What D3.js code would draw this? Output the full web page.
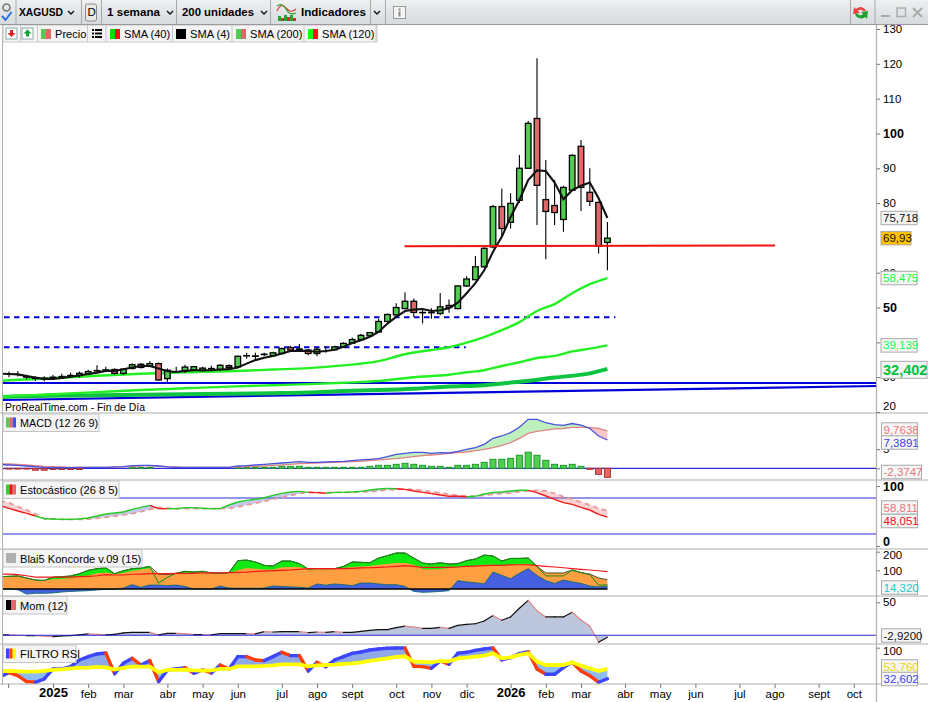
<!DOCTYPE html>
<html lang="es">
<head>
<meta charset="utf-8">
<title>XAGUSD</title>
<script src="https://cdnjs.cloudflare.com/ajax/libs/d3/7.8.5/d3.min.js"></script>
<style>
html,body{margin:0;padding:0;background:#fff;}
svg{display:block;font-family:"Liberation Sans",Arial,sans-serif;}
text{fill:#000;}
</style>
</head>
<body>
<svg id="c" width="928" height="702" viewBox="0 0 928 702"></svg>
<script>
// ---------- DATA ----------
const open  = [30.9,30.8,30.8,30.2,29.6,29.5,29.7,30,30.3,30.5,31,31.8,32,32.2,31.1,32.5,33.7,33.2,33.9,29.6,32.2,31.8,32.1,31.9,32.4,32.2,33.3,33,36.1,36,36.5,36.2,36.8,38.5,38,37.8,36.8,38,37.9,38.7,39.8,40.8,41.9,43,46,47.9,49.7,51.8,48.6,48.6,48.3,50.6,49.7,56.2,58,61.7,67.4,79,74.5,80.8,90,104.3,81,79.3,75.3,83.7,96.3,83.1,80.2,68.7];
const high  = [31.5,31.6,31.7,30.7,30.2,30.3,30.6,31,31.3,31.6,32.1,33.4,33,32.6,32.6,33.9,34.1,34.6,34.2,32.5,33,33.6,33.3,33,33.3,33.8,33.7,36.2,37,37,37,37.3,38.5,39,39.5,38.1,38.6,38.9,39,40,41.4,42.5,43,46.8,48.3,51.2,54.4,52.6,49.7,49.8,54.2,52.3,56.3,59,64.8,67.3,79.5,84.2,82.8,93.8,103.6,121.6,92.4,86.6,85,94,98.1,90,80.4,74.6];
const low   = [30.3,30,30.2,29.3,28.9,28.8,29.3,29.7,30,29.9,30.7,31.2,31.5,30.8,30.7,32.2,32.5,32.9,29,28.7,31.2,31.2,31.8,31.6,31.7,31.8,32.5,32.6,35.3,35.2,36,36,36.5,37.5,37.5,36.3,36,37,37.7,38.4,39.5,40.7,41.7,42.8,45.9,47.3,49.6,47.3,45.4,46.8,47.8,48.5,49.5,55.9,58,61.5,67,70.3,72.7,80,90,73.7,63.9,73.7,71.8,83.7,77.7,79.2,65.5,60.7];
const close = [30.9,30.8,30.8,30,29.8,29.7,30,30.2,30.5,31.1,31.6,31.9,32.1,31.1,32.3,33.6,32.8,33.9,29.2,32,32.2,32.9,33,32.6,32.5,33.4,32.8,36,36.2,36.1,36.6,37,38.2,37.8,38.1,36.8,38,38,38.7,39.7,40.8,42,42.8,46,48,50,51.8,48.6,48.5,48.5,50.2,50,56.2,58.2,61.7,67,79,72.7,79.9,90,102.9,85.1,77.6,77.3,84.5,93.7,84.5,80.5,67.6,69.93];
const sma4  = [31,30.9,30.8,30.3,29.9,29.5,29.5,29.8,30.1,30.5,30.9,31.3,31.8,31.8,32.3,32.8,33.2,33.2,32.5,31.7,31.5,31.8,32,32,32,32.2,32.3,32.8,33.9,34.9,35.6,36.1,36.8,37.5,37.6,37.5,37.3,37.5,37.9,38.7,39.8,40.6,41.6,43,45.4,47.3,49,49.4,49.6,49,49.2,49.8,51.4,54.1,57,60.7,66,70.3,76,80.9,86.6,89.4,89.2,85.9,81.1,83.7,85,85.9,81.4,75.718];

const sma40Weeks  = [0,1,6,11,16,21,26,31,35,39,43,46,49,51,53,55,57,59,61,63,65,67,69];
const sma40Values = [29,29.1,29.7,30.4,31,31.4,31.7,32.2,32.6,33.4,34.6,36.6,37.8,38.6,39.9,41.5,43.5,45.8,49,51,54.1,56.7,58.475];
const sma120Weeks  = [0,1,6,11,16,21,26,31,35,39,43,47,51,53,55,57,59,61,63,65,67,69];
const sma120Values = [24.3,24.5,25.1,25.7,26.3,26.8,27.3,27.7,28,28.4,28.9,30,30.7,31.4,32,33.2,34.3,35.5,36.1,37.4,38.2,39.139];
const sma200Weeks  = [0,1,11,21,31,35,39,43,47,51,55,59,63,67,69];
const sma200Values = [24.3,24.4,24.8,25.1,25.4,25.6,26,26.3,26.7,27.3,27.7,28.7,29.9,31.1,32.402];

const macdLine = [.95,.87,.78,.61,.43,.26,.17,.17,.17,.26,.26,.26,.26,.35,.43,.7,.78,.78,.61,.35,.26,.26,.26,.26,.26,.26,.26,.61,.7,.87,1.04,1.22,1.39,1.57,1.74,1.57,1.57,1.65,1.74,1.83,2,2.18,2.35,2.52,3.05,3.65,3.92,4.18,4.18,3.92,4.09,4,4.44,4.96,5.4,6.26,7.83,8.44,9.31,10.7,12.8,12.8,11.9,11.4,11.2,11.7,11.3,10.4,8.44,7.3891];
const macdSignal = [1.2,1.13,1.04,.87,.7,.52,.43,.35,.26,.26,.26,.26,.26,.26,.35,.43,.61,.7,.61,.43,.35,.26,.26,.26,.26,.26,.26,.35,.43,.52,.61,.78,.87,1.04,1.22,1.3,1.39,1.48,1.57,1.65,1.74,1.83,2,2.18,2.35,2.52,2.78,3.05,3.31,3.48,3.65,3.92,4.09,4.26,4.61,4.96,5.39,6,6.7,7.83,9.14,9.66,10,10.3,10.4,10.7,10.7,10.7,10.4,9.7638];
const macdHist = [-.2,-.2,-.2,-.2,-.5,-.5,-.3,-.3,-.3,-.3,0,0,0,0,0,.25,.25,.25,0,0,0,0,0,0,0,0,0,.25,.25,.25,.25,.26,.52,.52,.52,.26,.26,.26,.26,.26,.26,.26,.52,.78,.78,1.04,1.3,1.04,.78,.52,.52,.26,.78,.78,1.04,1.57,2.35,2.35,2.6,3.4,4.2,3.4,2.1,1.04,.78,1.04,.52,-.26,-1.57,-2.3747];

const stochK = [67,62.8,58.3,54.4,50,45.5,45,44.4,44.4,45,46.7,50,53.3,55,56.7,61.1,64.4,67.8,62.2,62.2,62.2,63.9,63.9,62.8,62.2,62.2,68.3,73.3,76.1,77.8,80.5,84.4,87.8,90,91.1,89.4,88.9,87.8,89.4,89.4,90,91.1,93.3,95,96.1,95.5,94.4,91.7,89.4,87.2,85,82.8,82.8,82.2,82.8,86.7,89.4,90,91.7,92.8,92.8,88.9,83.3,77.8,72.2,69.4,64.4,60,52.8,48.051];
const stochD = [75.5,72.2,65.5,60,53.3,45.5,45,44.4,44.4,44.4,45,46.1,47.8,50,51.7,53.9,57.2,61.1,64.4,63.3,62.2,62.2,62.2,62.2,62.2,62.2,62.8,65,68.3,71.1,74.4,77.8,81.1,84.4,87.2,89.4,89.4,88.9,89.4,89.4,89.4,90,90.5,91.7,93.3,94.4,95,94.4,92.8,90.5,88.3,86.1,84.4,83.3,82.8,84.4,86.1,87.2,88.3,90.5,91.7,92.8,91.7,87.8,82.2,77.8,73.3,68.3,62.8,58.811];

const koncordeGreen  = [66,68,70,59,48,46,63,66,70,82,100,109,114,82,98,109,113,121,32,63,84,95,91,95,86,84,88,152,155,145,127,123,150,150,136,107,109,109,109,121,145,143,141,166,179,193,193,166,139,134,141,134,136,152,161,182,177,150,164,164,166,121,70,70,70,102,88,77,20,23];
const koncordeOrange = [66,68,70,59,48,46,52,54,59,68,73,84,89,80,86,98,104,111,80,77,84,82,86,88,86,84,86,100,113,109,104,105,116,118,118,105,109,107,107,113,118,121,123,130,136,139,139,130,107,104,107,113,116,121,125,130,130,127,130,134,136,120,86,86,86,96,88,80,59,50];
const koncordeBlue   = [0,0,-4,-27,-23,-23,-21,-16,-13,-11,-9,-5,-2,-2,5,23,9,21,21,18,21,13,0,0,0,16,5,4,4,4,5,16,13,11,9,5,27,20,27,23,18,32,32,27,23,23,14,-13,-18,-16,-13,-9,45,38,34,27,91,73,55,84,109,73,45,30,48,38,30,16,11,14.32];
const koncordeMedia  = [80,80,77,71,64,64,64,64,64,66,68,71,77,75,75,79,80,82,82,82,84,84,84,86,86,86,88,89,91,95,96,98,100,102,105,109,109,109,109,109,111,113,114,116,118,121,125,121,116,116,116,116,118,121,123,125,127,127,129,130,130,125,121,118,114,109,105,102,98,93];

const momentum = [.5,.5,0,-.5,-.5,-1.5,-2,-1,-.5,.5,2,1.5,.5,1.5,3.5,4.5,4.5,4.5,.5,3,3,2.5,1,1,.5,2.5,2.5,2.5,2.5,2,5.5,5,5.5,5.5,5.5,4,5,4.5,5.5,4.5,4.5,6,7.5,8.5,8.5,11.5,14,12.5,10.5,10.5,12,10.5,15,16.5,17.5,21.7,30,22.7,27.8,40.9,53,36.9,27.8,27.8,27.8,34.8,23.2,14.1,-10.6,-2.92];

const rsi = [37,45.8,39.2,26.2,24.8,32,53.8,53.8,58.8,73.3,80.6,86.4,88.5,43.6,66,76.9,62.4,71.9,26.2,51.6,53.8,56.6,44.3,51.6,45,62.4,53.8,80.6,80.6,73.3,71.9,80.6,90,82.7,82.7,49.4,68.2,58.8,73.3,80.6,87.8,90.7,95,97.2,98.7,99.4,99.4,59.5,58.8,55.2,71.1,63.9,87.8,90,94.3,97.2,99.4,73.3,78.4,87.1,91.4,53.8,42.2,42.2,56.6,68.2,49.4,39.2,24.8,32.602];
const rsiSignal = [49.4,49.4,48.7,48,48,49.4,51.6,53,55.2,56,56.6,58.1,57.4,52.3,56,58.8,58.8,58.8,46.5,51.6,51.6,52.3,50.9,50.1,50.9,53.8,53.8,59.5,59.5,59.5,60.3,61.7,63.9,63.9,63.9,59.5,61.7,62.4,63.2,64.6,66.1,68.2,71.1,74,76.9,79.8,81.3,69.7,69,68.2,71.1,70.4,76.9,78.4,80.6,82.7,87.8,76.9,79.1,84.2,87.8,69.7,62.4,62.4,62.4,68.2,61,55.2,49.4,53.76];

const supportLevels = [47.2, 38.6];
const resistanceLevel = 67.6;
const trendLevels = [[28.33, 28.33],[23.45, 27.47]];

const priceTicks = [130,120,110,100,90,80,60,50,40,30,20];
const monthWeeks  = [0.9,6,10,14,19,23,27,32,36,40,45,49,53,58,62,66,71,75,79,84,88,93,97];
const monthLabels = ["","2025","feb","mar","abr","may","jun","jul","ago","sept","oct","nov","dic","2026","feb","mar","abr","may","jun","jul","ago","sept","oct"];
const legendNames = ["Precio","SMA (40)","SMA (4)","SMA (200)","SMA (120)"];
const panelNames = ["MACD (12 26 9)","Estocástico (26 8 5)","Blai5 Koncorde v.09 (15)","Mom (12)","FILTRO RSI"];
const toolbarNames = ["XAGUSD","D","1 semana","200 unidades","Indicadores"];

// ---------- SCALES ----------
const svg = d3.select("#c");
const W = 928, axisX = 876.5, left = 3;
const weeks = open.map((_, i) => i);
const x = d3.scaleLinear().domain([0, 97]).range([0.2, 853.8]);
const yPrice = d3.scaleLinear().domain([20, 130]).range([412, 29]);
const yMacd  = d3.scaleLinear().domain([-3, 12.8]).range([479.8, 419.3]);
const yStoch = d3.scaleLinear().domain([0, 100]).range([546, 486]);
const yKon   = d3.scaleLinear().domain([0, 200]).range([589, 551.7]);
const yMom   = d3.scaleLinear().domain([-2.92, 50]).range([637.2, 602.3]);
const yRsi   = d3.scaleLinear().domain([0, 100]).range([693.7, 647.7]);

const defs = svg.append("defs");
const grad = defs.append("linearGradient").attr("id","tb").attr("x2",0).attr("y2",1);
grad.append("stop").attr("offset",0).attr("stop-color","#eef0f1");
grad.append("stop").attr("offset",1).attr("stop-color","#d5dadd");
function clip(id, y0, y1){
  defs.append("clipPath").attr("id",id).append("rect").attr("x",left).attr("y",y0).attr("width",axisX-left).attr("height",y1-y0);
}
clip("cMain",25,411); clip("cMacd",413,480); clip("cStoch",480,549); clip("cKon",549,596); clip("cMom",596,644); clip("cRsi",644,684);

svg.append("rect").attr("width",W).attr("height",702).attr("fill","#fff");

const col = {up:"#52cc52", dn:"#e06868", blue:"#0000e0", panel:"#b0b0b0"};

// ---------- MAIN PANEL ----------
const gMain = svg.append("g").attr("clip-path","url(#cMain)");
const lineP = d3.line().x(d=>x(d[0])).y(d=>yPrice(d[1])).curve(d3.curveMonotoneX);

// trend / support lines
const trendX = [0.32, 99.63];
gMain.selectAll(".trend").data(trendLevels).join("line").attr("class","trend")
  .attr("x1",x(trendX[0])).attr("x2",x(trendX[1]))
  .attr("y1",d=>yPrice(d[0])).attr("y2",d=>yPrice(d[1]))
  .attr("stroke","#0000d8").attr("stroke-width",2.2);
const dashEnd = [69.9, 52.9];
gMain.selectAll(".sup").data(supportLevels).join("line").attr("class","sup")
  .attr("x1",left+1).attr("x2",(d,i)=>x(dashEnd[i]))
  .attr("y1",d=>yPrice(d)).attr("y2",d=>yPrice(d))
  .attr("stroke","#0000e0").attr("stroke-width",2).attr("stroke-dasharray","5.5 4.5");

// SMAs
const smas = [
  {w:sma200Weeks,v:sma200Values,c:"#0cc440",sw:4},
  {w:sma120Weeks,v:sma120Values,c:"#22f022",sw:2.4},
  {w:sma40Weeks,v:sma40Values,c:"#22f022",sw:2.4}
];
gMain.selectAll(".sma").data(smas).join("path").attr("class","sma")
  .attr("fill","none").attr("stroke",d=>d.c).attr("stroke-width",d=>d.sw)
  .attr("d",d=>lineP(d.w.map((w,i)=>[w,d.v[i]])));

// candles
const candle = gMain.selectAll(".candle").data(weeks).join("g").attr("class","candle");
candle.append("line").attr("x1",i=>x(i)).attr("x2",i=>x(i))
  .attr("y1",i=>yPrice(high[i])).attr("y2",i=>yPrice(low[i]))
  .attr("stroke","#000").attr("stroke-width",1.1);
candle.append("rect").attr("x",i=>x(i)-2.8).attr("width",5.6)
  .attr("y",i=>yPrice(Math.max(open[i],close[i])))
  .attr("height",i=>Math.abs(yPrice(open[i])-yPrice(close[i])))
  .attr("fill",i=>close[i]>=open[i]?col.up:col.dn)
  .attr("stroke","#000").attr("stroke-width",1.3);

// SMA 4
gMain.append("path").attr("fill","none").attr("stroke","#111").attr("stroke-width",2.1)
  .attr("d",d3.line().x((d,i)=>x(i)).y(d=>yPrice(d))(sma4));

// resistance
gMain.append("line").attr("x1",x(46)-0.5).attr("x2",x(88.05)).attr("y1",yPrice(resistanceLevel)).attr("y2",yPrice(resistanceLevel+0.25))
  .attr("stroke","#f41010").attr("stroke-width",2);

svg.append("text").attr("x",5).attr("y",411).attr("font-size",10.4).attr("fill","#111").text("ProRealTime.com - Fin de Día");

// band helper
function band(g, a, b, up, dn, ys){
  const base = d3.area().x((d,i)=>x(i));
  g.append("path").attr("fill",up).attr("d",base.y0((d,i)=>ys(b[i])).y1((d,i)=>ys(Math.max(a[i],b[i])))(a));
  g.append("path").attr("fill",dn).attr("d",base.y0((d,i)=>ys(b[i])).y1((d,i)=>ys(Math.min(a[i],b[i])))(a));
}
function zeroLine(y){
  svg.append("line").attr("x1",left).attr("x2",axisX).attr("y1",y).attr("y2",y).attr("stroke","#2a2ad8").attr("stroke-width",1.2);
}
function segments(g, arr, ys, cUp, cDn, sw){
  const seg = d3.pairs(weeks);
  g.selectAll(null).data(seg).join("line")
    .attr("x1",d=>x(d[0])).attr("x2",d=>x(d[1]))
    .attr("y1",d=>ys(arr[d[0]])).attr("y2",d=>ys(arr[d[1]]))
    .attr("stroke",d=>arr[d[1]]>=arr[d[0]]?cUp:cDn)
    .attr("stroke-width",sw).attr("stroke-linecap","round");
}

// ---------- MACD ----------
zeroLine(yMacd(0));
const gMacd = svg.append("g").attr("clip-path","url(#cMacd)");
band(gMacd, macdLine, macdSignal, "rgba(40,205,40,.3)", "rgba(225,70,70,.3)", yMacd);
gMacd.selectAll(".h").data(weeks).join("rect").attr("class","h")
  .attr("x",i=>x(i)-3).attr("width",6)
  .attr("y",i=>yMacd(Math.max(0,macdHist[i])))
  .attr("height",i=>Math.abs(yMacd(macdHist[i])-yMacd(0)))
  .attr("fill",i=>macdHist[i]>=0?"#50d050":"#e06868")
  .attr("stroke",i=>macdHist[i]>=0?"#1a9a2a":"#b03030").attr("stroke-width",1);
const lineMacd = d3.line().x((d,i)=>x(i)).y(d=>yMacd(d));
gMacd.append("path").attr("fill","none").attr("stroke","#e08585").attr("stroke-width",1.3).attr("d",lineMacd(macdSignal));
gMacd.append("path").attr("fill","none").attr("stroke","#4a50e0").attr("stroke-width",1.3).attr("d",lineMacd(macdLine));

// ---------- STOCHASTIC ----------
[80,20].forEach(v=>zeroLine(yStoch(v)));
const gSt = svg.append("g").attr("clip-path","url(#cStoch)");
band(gSt, stochK, stochD, "rgba(120,135,205,.45)", "rgba(235,110,110,.3)", yStoch);
const lineSt = d3.line().x((d,i)=>x(i)).y(d=>yStoch(d));
gSt.append("path").attr("fill","none").attr("stroke","#e69a9a").attr("stroke-width",1.8).attr("stroke-dasharray","5 4").attr("d",lineSt(stochD));
gSt.selectAll(null).data(d3.pairs(weeks)).join("line")
  .attr("x1",d=>x(d[0])).attr("x2",d=>x(d[1]))
  .attr("y1",d=>yStoch(stochK[d[0]])).attr("y2",d=>yStoch(stochK[d[1]]))
  .attr("stroke",d=>stochK[d[1]]>=stochD[d[1]]?"#22cc22":"#f01818")
  .attr("stroke-width",1.4);

// ---------- KONCORDE ----------
const gK = svg.append("g").attr("clip-path","url(#cKon)");
const areaK = d3.area().x((d,i)=>x(i)).y0(yKon(0)).y1(d=>yKon(d));
const lineK = d3.line().x((d,i)=>x(i)).y(d=>yKon(d));
gK.append("path").attr("fill","#12e812").attr("d",areaK(koncordeGreen));
gK.append("path").attr("fill","#ff9f42").attr("d",areaK(koncordeOrange));
gK.append("path").attr("fill","#4460e0").attr("d",areaK(koncordeBlue));
gK.append("path").attr("fill","none").attr("stroke","#3a3a20").attr("stroke-width",.9).attr("d",lineK(koncordeGreen.map((d,i)=>Math.max(d,koncordeOrange[i]))));
gK.append("path").attr("fill","none").attr("stroke","#148c14").attr("stroke-width",1).attr("d",lineK(koncordeGreen));
gK.append("path").attr("fill","none").attr("stroke","#0f6a70").attr("stroke-width",.9).attr("d",lineK(koncordeBlue));
gK.append("line").attr("x1",left).attr("x2",x(69)).attr("y1",yKon(0)).attr("y2",yKon(0)).attr("stroke","#000").attr("stroke-width",1.6);
gK.append("path").attr("fill","none").attr("stroke","#f01818").attr("stroke-width",1.2).attr("d",lineK(koncordeMedia));

// ---------- MOMENTUM ----------
const gM = svg.append("g").attr("clip-path","url(#cMom)");
gM.append("path").attr("fill","#bcc6dc").attr("d",d3.area().x((d,i)=>x(i)).y0(yMom(0)).y1(d=>yMom(d))(momentum));
segments(gM, momentum, yMom, "#111", "#e08585", 1.2);
zeroLine(yMom(0));

// ---------- FILTRO RSI ----------
const gR = svg.append("g").attr("clip-path","url(#cRsi)");
band(gR, rsi, rsiSignal, "#8ea8e8", "#8cbcf0", yRsi);
segments(gR, rsi, yRsi, "#3c46ff", "#ff3c0a", 3.4);
gR.append("path").attr("fill","none").attr("stroke","#ffff00").attr("stroke-width",3.8)
  .attr("d",d3.line().x((d,i)=>x(i)).y(d=>yRsi(d))(rsiSignal));

// ---------- FRAME ----------
svg.append("rect").attr("x",0).attr("y",684).attr("width",W).attr("height",18).attr("fill","#fff");
[413,480,549,596,644,684].forEach(y=>{
  svg.append("line").attr("x1",0).attr("x2",W).attr("y1",y).attr("y2",y).attr("stroke",col.panel).attr("stroke-width",1.2);
});
svg.append("line").attr("x1",2.5).attr("x2",2.5).attr("y1",25).attr("y2",685).attr("stroke",col.panel);
svg.append("line").attr("x1",axisX).attr("x2",axisX).attr("y1",25).attr("y2",702).attr("stroke",col.panel).attr("stroke-width",1.2);

// ---------- AXES ----------
function axisStyle(g, size){
  g.select(".domain").remove();
  g.selectAll(".tick line").attr("stroke","#777");
  g.selectAll(".tick text").attr("font-family","inherit").attr("font-size",size||11.5).attr("fill","#000");
}
function rightAxis(scale, vals, bold){
  const g = svg.append("g").attr("transform",`translate(${axisX},0)`)
    .call(d3.axisRight(scale).tickValues(vals).tickSize(3.5).tickPadding(3).tickFormat(d3.format("d")));
  axisStyle(g);
  g.selectAll(".tick text").attr("font-weight",d=>bold&&bold.includes(d)?"bold":"normal")
    .attr("font-size",d=>bold&&bold.includes(d)?12.5:11.5);
  return g;
}
const gP = rightAxis(yPrice, priceTicks, [100,50]);
gP.selectAll(".tick text").attr("y",d=>d===20?-6:0).attr("dy",".32em");
rightAxis(yMacd,[5,0]);
const gS = rightAxis(yStoch,[100,0],[100,0]);
gS.selectAll(".tick text").attr("y",d=>d===0?-5:0);
const gKa = rightAxis(yKon,[200,100]);
gKa.selectAll(".tick text").attr("y",d=>d===200?3:0);
rightAxis(yMom,[50]);
const gRa = rightAxis(yRsi,[100]);
gRa.selectAll(".tick text").attr("y",3);

const gX = svg.append("g").attr("transform","translate(0,684)")
  .call(d3.axisBottom(x).tickValues(monthWeeks).tickSize(4).tickPadding(3).tickFormat((d,i)=>monthLabels[i]));
axisStyle(gX);
gX.selectAll(".tick text")
  .attr("font-size",(d,i)=>/^20/.test(monthLabels[i])?13:11.5)
  .attr("font-weight",(d,i)=>/^20/.test(monthLabels[i])?"bold":"normal")
  .attr("y",(d,i)=>/^20/.test(monthLabels[i])?4.2:5.4);

// ---------- VALUE PILLS ----------
const pills = [
  ["75,718",yPrice(75.718),"#111","#f5f5f5",881,36,11.5,"normal"],
  ["69,93",yPrice(69.93),"#111","#ffc000",881,30,11.5,"normal"],
  ["58,475",yPrice(58.475),"#10ff40","#f5f5f5",881,36,11.5,"normal"],
  ["39,139",yPrice(39.139),"#10ff40","#f5f5f5",881,36,11.5,"normal"],
  ["32,402",yPrice(32.402)+1,"#00c040","#f5f5f5",881,46,14.5,"bold"],
  ["9,7638",429.5,"#e87878","#f5f5f5",881.5,36,11.5,"normal"],
  ["7,3891",442.5,"#4040f0","#f5f5f5",881.5,36,11.5,"normal"],
  ["-2,3747",472,"#e87878","#f5f5f5",881.5,40,11.5,"normal"],
  ["58,811",507.5,"#e87878","#f5f5f5",881.5,36,11.5,"normal"],
  ["48,051",521,"#f01010","#f5f5f5",881.5,36,11.5,"normal"],
  ["14,320",587.5,"#20c8c8","#f5f5f5",881.5,36,11.5,"normal"],
  ["-2,9200",635.5,"#111","#f5f5f5",881.5,39,11.5,"normal"],
  ["53,760",666.5,"#e8d800","#f5f5f5",881.5,36,11.5,"normal"],
  ["32,602",679,"#4040f0","#f5f5f5",881.5,36,11.5,"normal"]
];
pills.forEach(p=>{
  const h = p[6]>12?17:13.5;
  svg.append("rect").attr("x",p[4]).attr("y",p[1]-h/2).attr("width",p[5]).attr("height",h).attr("fill",p[3]).attr("stroke","#aaa").attr("stroke-width",1);
  svg.append("text").attr("x",p[4]+2).attr("y",p[1]+(p[6]>12?5:4)).attr("font-size",p[6]).attr("font-weight",p[7]).style("fill",p[2]).text(p[0]);
});

// ---------- PANEL TITLES ----------
const titleBoxes = [[414,96,["#52cc52","#e06868","#4050e0"]],[481,116,["#30d030","#f01010","#e06868"]],[549.5,139,["#b0b0b0"]],[596.5,64,["#000","#e06868"]],[645,73,["#3c46ff","#ff3c0a","#ffff00"]]];
titleBoxes.forEach((t,i)=>{
  svg.append("rect").attr("x",3).attr("y",t[0]).attr("width",t[1]).attr("height",17.5).attr("fill","#f4f4f4").attr("stroke","#c4c4c4");
  const w = 10/t[2].length;
  t[2].forEach((c,j)=>svg.append("rect").attr("x",6+j*w).attr("y",t[0]+3.5).attr("width",w).attr("height",10).attr("fill",c));
  svg.append("text").attr("x",20).attr("y",t[0]+13).attr("font-size",i===0?10.8:11.1).attr("fill","#111").text(panelNames[i]);
});

// ---------- LEGEND ROW ----------
svg.append("rect").attr("x",3).attr("y",25).attr("width",374).attr("height",17).attr("fill","#f4f4f4").attr("stroke","#c8c8c8");
[20.5,37.5,87.5,106,172.5,232,304,376].forEach(v=>svg.append("line").attr("x1",v).attr("x2",v).attr("y1",25).attr("y2",42).attr("stroke","#c8c8c8"));
const legendSw = [[41,["#52cc52","#e06868"]],[110,["#00e000","#f01010"]],[176,["#000"]],[236,["#52cc52","#e06868"]],[308,["#10ff10","#ff1010"]]];
const legendTx = [55,124,190,250,322];
legendSw.forEach((s,i)=>{
  const w = 10/s[1].length;
  s[1].forEach((c,j)=>svg.append("rect").attr("x",s[0]+j*w).attr("y",29).attr("width",w).attr("height",10).attr("fill",c));
  svg.append("text").attr("x",legendTx[i]).attr("y",38).attr("font-size",11.1).attr("fill","#222").text(legendNames[i]);
});
// small buttons
svg.append("rect").attr("x",6).attr("y",28).attr("width",11).attr("height",11).attr("fill","#fff").attr("stroke","#8aa");
svg.append("path").attr("d","M11.5 37l-4-4h2.5v-3h3v3h2.5z").attr("fill","#e02020");
svg.append("rect").attr("x",22).attr("y",28).attr("width",11).attr("height",11).attr("fill","#fff").attr("stroke","#8aa");
svg.append("path").attr("d","M27.5 29.5l4 4h-2.5v3h-3v-3h-2.5z").attr("fill","#10a030");
[30,33.5,37].forEach(y=>{
  svg.append("rect").attr("x",92).attr("y",y-1).attr("width",2).attr("height",2).attr("fill","#000");
  svg.append("rect").attr("x",95).attr("y",y-1).attr("width",7).attr("height",2).attr("fill","#000");
});

// ---------- TOOLBAR ----------
svg.append("rect").attr("width",W).attr("height",24.5).attr("fill","url(#tb)");
svg.append("line").attr("x1",0).attr("x2",W).attr("y1",24.5).attr("y2",24.5).attr("stroke","#999").attr("stroke-width",1.2);
[16,81.5,101.5,176.5,270.5,370.5,385.5,850.5,875].forEach(v=>svg.append("line").attr("x1",v).attr("x2",v).attr("y1",0).attr("y2",24).attr("stroke","#a8a8a8"));
svg.append("rect").attr("x",85.5).attr("y",4).attr("width",11).attr("height",17).attr("rx",2).attr("fill","#e8e8e4").attr("stroke","#8a8a8a");
const tbText = [[19,0,44],[87.5,1,0],[107,2,53],[182,3,72],[301,4,65]];
tbText.forEach(t=>{
  const n = svg.append("text").attr("x",t[0]).attr("y",16).attr("font-size",11.5).attr("font-weight",t[1]===1?"normal":"bold").attr("fill","#111").text(toolbarNames[t[1]]);
  if(t[2]) n.attr("textLength",t[2]).attr("lengthAdjust","spacingAndGlyphs");
});
[[71,12],[170,12],[264,12],[377,12]].forEach(c=>{
  svg.append("path").attr("d",`M${c[0]-3} ${c[1]-1}l3 3l3 -3`).attr("fill","none").attr("stroke","#111").attr("stroke-width",1.4);
});
// top-left icon
svg.append("circle").attr("cx",6.5).attr("cy",7.5).attr("r",3.5).attr("fill","none").attr("stroke","#777").attr("stroke-width",1.6);
svg.append("path").attr("d","M2 16l3.5 4l6 -8").attr("fill","none").attr("stroke","#2a70e0").attr("stroke-width",2);
// indicators icon
svg.append("path").attr("d","M277 11q4 -9 9 -3t10 1").attr("fill","none").attr("stroke","#e04040").attr("stroke-width",1.2);
svg.append("path").attr("d","M277 6q5 -4 9 3t10 4").attr("fill","none").attr("stroke","#30a030").attr("stroke-width",1.2);
[[278,16,5],[281,18,3],[284,15,6],[287,17,4],[290,15,6],[293,18,3]].forEach((b,i)=>svg.append("rect").attr("x",b[0]).attr("y",b[1]).attr("width",3).attr("height",b[2]).attr("fill",i%2?"#d03030":"#30a030"));
// info box
svg.append("rect").attr("x",393.5).attr("y",6.5).attr("width",12).attr("height",12).attr("fill","#f6f6f6").attr("stroke","#999");
svg.append("rect").attr("x",398.5).attr("y",8.5).attr("width",2).attr("height",2).attr("fill","#888");
svg.append("rect").attr("x",398.5).attr("y",11.5).attr("width",2).attr("height",5).attr("fill","#888");
// refresh icon
svg.append("path").attr("d","M866 11a6 6 0 0 0 -10 -2l-2 -2l-1 7l7 -1l-2 -2a3 3 0 0 1 5 0z").attr("fill","#f04040");
svg.append("path").attr("d","M855 13a6 6 0 0 0 10 4l2 2l1 -8l-7 1l2 2a3 3 0 0 1 -5 0z").attr("fill","#20a030");
// window controls
svg.append("rect").attr("x",881).attr("y",15).attr("width",9).attr("height",2).attr("fill","#aaa");
svg.append("rect").attr("x",897).attr("y",8).attr("width",8.5).attr("height",8.5).attr("fill","none").attr("stroke","#aaa").attr("stroke-width",1.4);
svg.append("path").attr("d","M913 8l9 9m0 -9l-9 9").attr("stroke","#aaa").attr("stroke-width",1.8);
</script>
</body>
</html>
